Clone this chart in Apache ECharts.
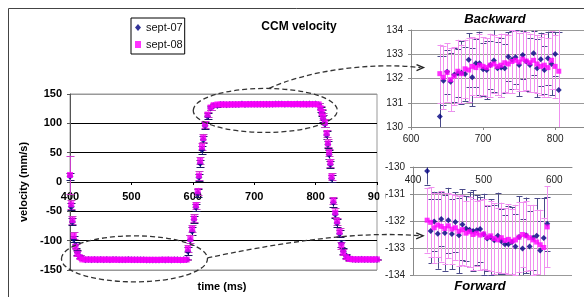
<!DOCTYPE html>
<html>
<head>
<meta charset="utf-8">
<script src="https://cdn.jsdelivr.net/npm/echarts@6/dist/echarts.min.js"></script>
<style>
  html, body { margin: 0; padding: 0; background: #fff; }
  #chart { width: 584px; height: 297px; }
</style>
</head>
<body>
<div id="chart"></div>
<script>
// main chart ramps (ms, mm/s)
var ramp1Time = [400, 402, 404, 406, 409, 412, 416];
var ramp1Sept07 = [10, -42, -68, -97, -108, -120, -127];
var ramp1Sept08 = [12, -38, -65, -92, -110, -122, -128];
var ramp1Err07 = [6, 6, 6, 5, 5, 4, 3];
var ramp1Err08 = [33, 8, 7, 6, 5, 4, 3];

var ramp2Time = [592, 596, 599, 602, 605, 608, 610, 612, 615, 617, 620, 624, 629, 634];
var ramp2Sept07 = [-118, -99, -84, -64, -43, -19, 8, 32, 55, 72, 96, 112, 126, 130];
var ramp2Sept08 = [-114, -97, -80, -62, -40, -16, 11, 36, 60, 75, 98, 115, 127, 131];
var ramp2Err07 = [7, 8, 7, 6, 6, 7, 6, 6, 7, 6, 6, 5, 4, 3];
var ramp2Err08 = [6, 7, 6, 7, 6, 6, 7, 6, 6, 7, 6, 5, 4, 3];

var ramp3Time = [808, 810, 812, 815, 818, 820, 822, 824, 826, 829, 832, 835, 839, 842, 845, 850, 855];
var ramp3Sept07 = [124, 117, 108, 99, 80, 64, 47, 30, 6, -35, -55, -70, -88, -105, -118, -126, -130];
var ramp3Sept08 = [126, 119, 111, 101, 83, 66, 50, 33, 9, -32, -52, -67, -85, -108, -120, -128, -131];
var ramp3Err07 = [4, 5, 6, 6, 7, 6, 7, 6, 6, 7, 6, 7, 6, 6, 5, 4, 3];
var ramp3Err08 = [4, 5, 6, 7, 6, 7, 6, 7, 6, 6, 7, 6, 7, 6, 5, 4, 3];

var flat3Time = [860, 865, 870, 875, 880, 885, 890, 895, 900];
var flat3Sept07 = [-131.6, -131.9, -132.2, -131.8, -132.0, -132.3, -131.9, -132.1, -132.0];
var flat3Sept08 = [-131.8, -132.0, -131.9, -132.1, -132.0, -131.8, -132.2, -132.0, -131.9];
var flat3Err07 = [1.2, 1.3, 1.1, 1.2, 1.3, 1.2, 1.1, 1.2, 1.3];
var flat3Err08 = [1.2, 1.2, 1.3, 1.2, 1.2, 1.3, 1.2, 1.2, 1.2];

// "Forward" zoom (flat part at about -132)
var fwdTime = [420, 425, 430, 435, 440, 445, 450, 455, 460, 465, 470, 475, 480, 485, 490, 495, 500, 505,
  510, 515, 520, 525, 530, 535, 540, 545, 550, 555, 560, 565, 570, 575, 580, 585, 590];
var fwdSept07 = [-130.15, -132.37, -132.02, -132.47, -131.93, -132.44, -131.97, -132.48, -132.04, -132.53,
  -132.13, -132.28, -132.32, -132.37, -132.34, -132.30, -132.49, -132.65, -132.60, -132.71, -132.55,
  -132.75, -132.86, -132.86, -132.78, -132.94, -132.59, -133.02, -132.53, -132.94, -132.62, -132.55,
  -133.09, -132.63, -132.10];
var fwdSept08 = [-131.97, -132.05, -132.25, -132.15, -132.20, -132.28, -132.18, -132.30, -132.25, -132.38,
  -132.32, -132.45, -132.40, -132.50, -132.45, -132.52, -132.48, -132.60, -132.55, -132.65, -132.70,
  -132.62, -132.72, -132.68, -132.75, -132.70, -132.60, -132.50, -132.55, -132.62, -132.70, -132.78,
  -132.88, -132.98, -132.22];
var fwdErr07 = [0.5, 1.2, 1.1, 1.3, 1.0, 1.4, 1.2, 1.3, 1.1, 1.4, 1.3, 1.2, 1.4, 1.5, 1.3, 1.2, 1.5, 1.2,
  1.4, 1.3, 1.6, 1.2, 1.1, 1.4, 1.3, 1.2, 1.5, 1.1, 1.4, 1.3, 1.2, 1.4, 1.1, 1.5, 1.0];
var fwdErr08 = [1.2, 1.3, 1.3, 1.2, 1.3, 1.3, 1.2, 1.3, 1.2, 1.3, 1.3, 1.2, 1.3, 1.3, 1.2, 1.3, 1.3, 1.2,
  1.3, 1.3, 1.2, 1.3, 1.2, 1.3, 1.2, 1.3, 1.3, 1.2, 1.3, 1.2, 1.3, 1.2, 1.3, 1.1, 1.5];

// "Backward" zoom (flat part at about +132)
var bwdTime = [640, 645, 650, 655, 660, 665, 670, 675, 680, 685, 690, 695, 700, 705, 710, 715, 720,
  725, 730, 735, 740, 745, 750, 755, 760, 765, 770, 775, 780, 785, 790, 795, 800, 805];
var bwdSept07 = [130.43, 131.91, 132.28, 131.87, 132.15, 132.22, 132.24, 132.19, 132.77, 132.05, 132.63,
  132.63, 132.38, 132.35, 132.56, 132.74, 132.42, 132.45, 132.42, 132.90, 132.77, 132.88, 132.56,
  132.97, 132.70, 132.56, 133.04, 132.42, 132.79, 132.35, 132.83, 132.60, 133.01, 131.53];
var bwdSept08 = [132.20, 132.05, 132.25, 131.95, 132.10, 132.30, 132.20, 132.40, 132.35, 132.50, 132.45,
  132.55, 132.50, 132.45, 132.55, 132.60, 132.50, 132.55, 132.65, 132.60, 132.70, 132.75, 132.68,
  132.80, 132.72, 132.65, 132.75, 132.60, 132.50, 132.55, 132.45, 132.75, 132.50, 132.30];
var bwdErr07 = [2.5, 1.0, 0.9, 1.2, 1.1, 1.0, 1.3, 1.1, 1.1, 1.2, 1.0, 1.3, 1.1, 1.2, 1.0, 1.3, 1.1,
  1.2, 1.0, 1.0, 1.2, 1.1, 1.3, 1.0, 1.2, 1.1, 0.9, 1.2, 1.1, 1.0, 1.1, 1.3, 0.9, 2.4];
var bwdErr08 = [1.2, 1.3, 1.2, 1.3, 1.2, 1.3, 1.2, 1.2, 1.3, 1.2, 1.2, 1.3, 1.2, 1.2, 1.3, 1.2, 1.2,
  1.3, 1.2, 1.2, 1.3, 1.2, 1.2, 1.3, 1.2, 1.2, 1.3, 1.2, 1.2, 1.3, 1.2, 1.2, 1.3, 2.5];

var FONT = '"Liberation Sans", Arial, sans-serif';
var NAVY = '#000080', MAG = '#ff00ff';
var MAIN_TOP = 94, MAIN_BOTTOM = 27, MAIN_H = 297 - MAIN_TOP - MAIN_BOTTOM;

function pts(t, v) { return t.map(function (x, i) { return [x, v[i]]; }); }
function bars(t, v, e) { return t.map(function (x, i) { return [x, v[i], e[i]]; }); }

var allTime = ramp1Time.concat(fwdTime, ramp2Time, bwdTime, ramp3Time, flat3Time);
var all07 = ramp1Sept07.concat(fwdSept07, ramp2Sept07, bwdSept07, ramp3Sept07, flat3Sept07);
var all08 = ramp1Sept08.concat(fwdSept08, ramp2Sept08, bwdSept08, ramp3Sept08, flat3Sept08);
var allErr07 = ramp1Err07.concat(fwdErr07, ramp2Err07, bwdErr07, ramp3Err07, flat3Err07);
var allErr08 = ramp1Err08.concat(fwdErr08, ramp2Err08, bwdErr08, ramp3Err08, flat3Err08);

// vertical error bar with caps, clipped to the plot
function errorBars(color, cap) {
  return function (params, api) {
    var x = api.value(0), y = api.value(1), e = api.value(2);
    var hi = api.coord([x, y + e]);
    var lo = api.coord([x, y - e]);
    var cs = params.coordSys;
    var top = Math.max(hi[1], cs.y), bot = Math.min(lo[1], cs.y + cs.height);
    if (bot <= top) return null;
    var px = Math.round(hi[0]) + 0.5;
    var st = { stroke: color, lineWidth: 1 };
    var kids = [{ type: 'line', shape: { x1: px, y1: top, x2: px, y2: bot }, style: st }];
    if (hi[1] >= cs.y) {
      var yh = Math.round(hi[1]) + 0.5;
      kids.push({ type: 'line', shape: { x1: px - cap, y1: yh, x2: px + cap, y2: yh }, style: st });
    }
    if (lo[1] <= cs.y + cs.height) {
      var yl = Math.round(lo[1]) + 0.5;
      kids.push({ type: 'line', shape: { x1: px - cap, y1: yl, x2: px + cap, y2: yl }, style: st });
    }
    return { type: 'group', children: kids };
  };
}

function errSeries(grid, data, color, cap) {
  return {
    type: 'custom', name: 'err', xAxisIndex: grid, yAxisIndex: grid, silent: true,
    renderItem: errorBars(color, cap), encode: { x: 0, y: 1 }, data: data
  };
}
function dotSeries(grid, name, data, symbol, size, color) {
  return {
    type: 'scatter', name: name, xAxisIndex: grid, yAxisIndex: grid, silent: true,
    symbol: symbol, symbolSize: size, itemStyle: { color: color }, data: data
  };
}

var insetLabel = { fontSize: 10, color: '#222', fontFamily: FONT };

var option = {
  animation: false,
  backgroundColor: '#fff',
  legend: {
    left: 131, top: 18, orient: 'vertical', selectedMode: false,
    data: [{ name: 'sept-07', icon: 'diamond' }, { name: 'sept-08', icon: 'rect' }],
    itemWidth: 6, itemHeight: 7, itemGap: 6,
    padding: [4, 2, 4, 4],
    borderColor: '#000', borderWidth: 1,
    textStyle: { fontSize: 11, color: '#111', fontFamily: FONT }
  },
  grid: [
    { left: 70, right: 207, top: MAIN_TOP, bottom: MAIN_BOTTOM, show: true, borderColor: '#999', borderWidth: 1, outerBoundsMode: 'none' },
    { left: 411, right: 0, top: 30, bottom: 170, outerBoundsMode: 'none' },
    { left: 413, right: 12, top: 167, bottom: 22, outerBoundsMode: 'none' }
  ],
  xAxis: [
    {
      // axis sits on the zero line of the y axis (range is symmetric)
      gridIndex: 0, type: 'value', min: 400, max: 900, interval: 100, offset: -MAIN_H / 2,
      axisLine: { show: true, onZero: false, lineStyle: { color: '#000' } },
      axisTick: { show: true, length: 3, lineStyle: { color: '#000' } },
      axisLabel: { fontSize: 11, fontWeight: 'bold', color: '#000', fontFamily: FONT, margin: 9 },
      splitLine: { show: false }
    },
    {
      gridIndex: 1, type: 'value', min: 600, max: 840, interval: 100,
      axisLine: { show: true, lineStyle: { color: '#888' } },
      axisTick: { show: true, length: 3, lineStyle: { color: '#888' } },
      axisLabel: Object.assign({ margin: 7, showMaxLabel: false }, insetLabel),
      splitLine: { show: false }
    },
    {
      gridIndex: 2, type: 'value', position: 'top', min: 400, max: 625, interval: 100,
      axisLine: { show: true, lineStyle: { color: '#888' } },
      axisTick: { show: false },
      axisLabel: Object.assign({ inside: true, margin: 8, showMaxLabel: false }, insetLabel),
      splitLine: { show: false }
    }
  ],
  yAxis: [
    {
      gridIndex: 0, type: 'value', min: -150, max: 150, interval: 50,
      name: 'velocity (mm/s)', nameLocation: 'middle', nameGap: 37,
      nameTextStyle: { fontSize: 11, fontWeight: 'bold', color: '#000', fontFamily: FONT },
      axisLine: { show: true, lineStyle: { color: '#555' } },
      axisTick: { show: true, length: 3, lineStyle: { color: '#555' } },
      axisLabel: { fontSize: 11, fontWeight: 'bold', color: '#000', fontFamily: FONT, margin: 8 },
      splitLine: { show: true, lineStyle: { color: ['#999', '#000', '#000', '#000', '#000', '#000', '#999'], width: 1 } }
    },
    {
      gridIndex: 1, type: 'value', min: 130, max: 134, interval: 1,
      axisLine: { show: true, lineStyle: { color: '#888' } },
      axisTick: { show: true, length: 3, lineStyle: { color: '#888' } },
      axisLabel: Object.assign({ margin: 8 }, insetLabel),
      splitLine: { show: true, lineStyle: { color: '#999' } }
    },
    {
      gridIndex: 2, type: 'value', min: -134, max: -130, interval: 1,
      axisLine: { show: true, lineStyle: { color: '#888' } },
      axisTick: { show: true, length: 3, lineStyle: { color: '#888' } },
      axisLabel: Object.assign({ margin: 8 }, insetLabel),
      splitLine: { show: true, lineStyle: { color: '#999' } }
    }
  ],
  series: [
    errSeries(0, bars(allTime, all07, allErr07), '#1a1a60', 4),
    dotSeries(0, 'sept-07', pts(allTime, all07), 'diamond', 7, NAVY),
    errSeries(0, bars(allTime, all08, allErr08), '#c83cc8', 4),
    dotSeries(0, 'sept-08', pts(allTime, all08), 'rect', 6, MAG),

    errSeries(1, bars(bwdTime, bwdSept07, bwdErr07), '#4a4a8a', 3),
    dotSeries(1, 'sept-07', pts(bwdTime, bwdSept07), 'diamond', 6, NAVY),
    errSeries(1, bars(bwdTime, bwdSept08, bwdErr08), '#f090f0', 3),
    dotSeries(1, 'sept-08', pts(bwdTime, bwdSept08), 'rect', 5, MAG),

    errSeries(2, bars(fwdTime, fwdSept07, fwdErr07), '#4a4a8a', 3),
    dotSeries(2, 'sept-07', pts(fwdTime, fwdSept07), 'diamond', 6, NAVY),
    errSeries(2, bars(fwdTime, fwdSept08, fwdErr08), '#f090f0', 3),
    dotSeries(2, 'sept-08', pts(fwdTime, fwdSept08), 'rect', 5, MAG)
  ]
};

var chart = echarts.init(document.getElementById('chart'), null, { renderer: 'canvas' });
chart.setOption(option);

// annotations: frame, titles, dashed ellipses and arrows to the zoom panels
function px(grid, t, v) { return chart.convertToPixel({ gridIndex: grid }, [t, v]); }
var e1 = px(0, 718, 122), e2 = px(0, 505, -131);
var a1 = px(1, 616, 132.45), a2 = px(2, 413, -132.55);
var s1 = [e1[0] + 4, e1[1] - 22], s2 = [e2[0] + 73, e2[1] - 1];
var dash = { fill: 'none', stroke: '#333', lineWidth: 1.3, lineDash: [5, 3] };

function txt(x, y, s, font) {
  return {
    type: 'text', x: x, y: y, silent: true, z: 20,
    style: { text: s, font: font, fill: '#000', align: 'center', verticalAlign: 'middle', textAlign: 'center', textVerticalAlign: 'middle' }
  };
}
function arrowHead(p) {
  return {
    type: 'polyline', silent: true, z: 20,
    shape: { points: [[p[0] - 6, p[1] - 3], [p[0] + 1, p[1]], [p[0] - 6, p[1] + 3]] },
    style: { fill: 'none', stroke: '#222', lineWidth: 1.3 }
  };
}

chart.setOption({
  graphic: [
    // the zoom panel is pasted over the end of the main time axis
    { type: 'rect', silent: true, z: 5, shape: { x: 379.5, y: 190, width: 6, height: 16 }, style: { fill: '#fff' } },
    { type: 'rect', silent: true, z: 20, shape: { x: 8.5, y: 8.5, width: 700, height: 400 }, style: { fill: 'none', stroke: '#444', lineWidth: 1 } },
    txt(299, 27, 'CCM velocity', 'bold 12px ' + FONT),
    txt(222, 287, 'time (ms)', 'bold 11px ' + FONT),
    txt(495, 19, 'Backward', 'italic bold 13px ' + FONT),
    txt(480, 286, 'Forward', 'italic bold 13px ' + FONT),
    { type: 'ellipse', silent: true, z: 20, shape: { cx: e1[0], cy: e1[1], rx: 72, ry: 22 }, style: dash },
    { type: 'ellipse', silent: true, z: 20, shape: { cx: e2[0], cy: e2[1], rx: 73, ry: 23 }, style: dash },
    {
      type: 'bezierCurve', silent: true, z: 20,
      shape: { x1: s1[0], y1: s1[1], cpx1: s1[0] + 35, cpy1: s1[1] - 17, cpx2: a1[0] - 52, cpy2: a1[1] - 6, x2: a1[0] - 2, y2: a1[1] },
      style: dash
    },
    {
      type: 'bezierCurve', silent: true, z: 20,
      shape: { x1: s2[0], y1: s2[1], cpx1: s2[0] + 62, cpy1: s2[1] - 13, cpx2: a2[0] - 67, cpy2: a2[1] - 6, x2: a2[0] - 2, y2: a2[1] },
      style: dash
    },
    arrowHead(a1),
    arrowHead(a2)
  ]
});
</script>
</body>
</html>
